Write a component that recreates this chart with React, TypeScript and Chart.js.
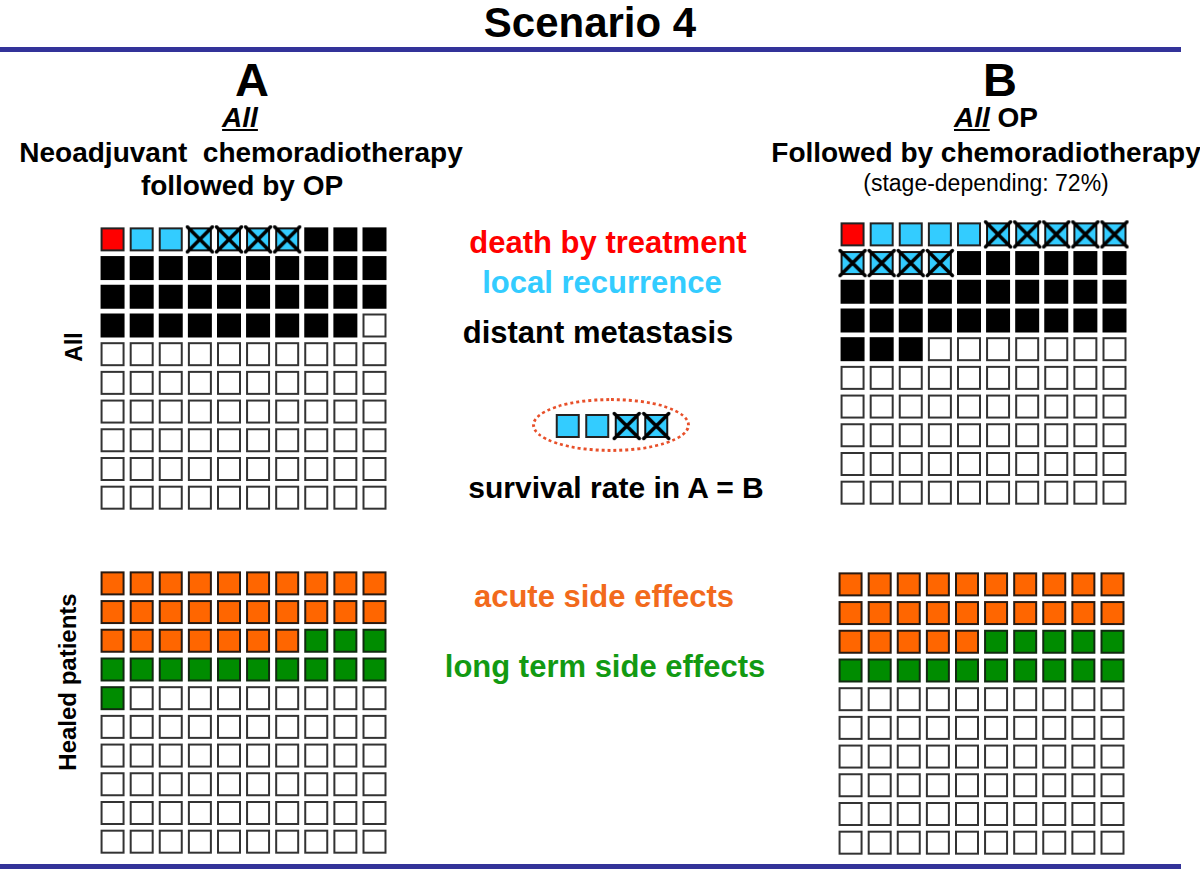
import React, { useEffect, useRef } from "react";
import { Chart, registerables } from "chart.js";

Chart.register(...registerables);

// ---- data ----
const outcomeCategories = ["death by treatment", "local recurrence", "local recurrence (salvaged)", "distant metastasis", "no event"];
const gridATopCounts = [1, 2, 4, 32, 61];
const gridBTopCounts = [1, 4, 9, 29, 57];
const legendCounts = [0, 2, 2, 0, 0];

const sideEffectCategories = ["acute side effects", "long term side effects", "no side effects"];
const gridABottomCounts = [27, 14, 59];
const gridBBottomCounts = [25, 15, 60];

// ---- styles ----
const FONT = '"Liberation Sans", Arial, Helvetica, sans-serif';
const outcomeStyles = [
  { fill: "#ff0000", stroke: "#222222", cross: false },
  { fill: "#33ccff", stroke: "#222222", cross: false },
  { fill: "#33ccff", stroke: "#111111", cross: true },
  { fill: "#000000", stroke: "#000000", cross: false },
  { fill: "#ffffff", stroke: "#333333", cross: false },
];
const sideStyles = [
  { fill: "#ff6600", stroke: "#2a1a10", cross: false },
  { fill: "#008c00", stroke: "#102a10", cross: false },
  { fill: "#ffffff", stroke: "#333333", cross: false },
];

function makeCell(fill: string, stroke: string, cross: boolean, w: number, h: number) {
  const pad = 3;
  const c = document.createElement("canvas");
  c.width = w + pad * 2;
  c.height = h + pad * 2;
  const ctx = c.getContext("2d")!;
  ctx.fillStyle = fill;
  ctx.fillRect(pad, pad, w, h);
  ctx.strokeStyle = stroke;
  ctx.lineWidth = 2;
  ctx.strokeRect(pad + 1, pad + 1, w - 2, h - 2);
  if (cross) {
    ctx.strokeStyle = "#000000";
    ctx.lineWidth = 3.5;
    ctx.lineCap = "round";
    ctx.beginPath();
    ctx.moveTo(pad - 0.5, pad - 0.5);
    ctx.lineTo(pad + w + 0.5, pad + h + 0.5);
    ctx.moveTo(pad + w + 0.5, pad - 0.5);
    ctx.lineTo(pad - 0.5, pad + h + 0.5);
    ctx.stroke();
  }
  return c;
}

function buildDatasets(counts: number[], labels: string[], styles: any[], cols: number, cellW: number, cellH: number) {
  const datasets: any[] = [];
  let idx = 0;
  counts.forEach((n, k) => {
    const pts: { x: number; y: number }[] = [];
    for (let i = 0; i < n; i++) {
      pts.push({ x: idx % cols, y: Math.floor(idx / cols) });
      idx++;
    }
    const s = styles[k];
    datasets.push({
      label: labels[k],
      data: pts,
      pointStyle: makeCell(s.fill, s.stroke, s.cross, cellW, cellH),
      pointRadius: 12,
      pointHoverRadius: 12,
    });
  });
  return datasets;
}

function Waffle(props: {
  counts: number[];
  labels: string[];
  styles: any[];
  cols: number;
  rows: number;
  left: number;
  top: number;
  width: number;
  height: number;
  cellW?: number;
  cellH?: number;
}) {
  const ref = useRef<HTMLCanvasElement>(null);
  useEffect(() => {
    const chart = new Chart(ref.current!, {
      type: "scatter",
      data: {
        datasets: buildDatasets(props.counts, props.labels, props.styles, props.cols, props.cellW ?? 24, props.cellH ?? 24),
      },
      options: {
        animation: false,
        responsive: false,
        maintainAspectRatio: false,
        events: [],
        layout: { padding: 0, autoPadding: false },
        plugins: { legend: { display: false }, tooltip: { enabled: false }, title: { display: false } },
        scales: {
          x: { type: "linear", min: -0.5, max: props.cols - 0.5, display: false },
          y: { type: "linear", min: -0.5, max: props.rows - 0.5, reverse: true, display: false },
        },
      },
    });
    return () => chart.destroy();
  }, []);
  return (
    <canvas
      ref={ref}
      width={props.width}
      height={props.height}
      style={{ position: "absolute", left: props.left, top: props.top, width: props.width, height: props.height }}
    />
  );
}

function Label(props: {
  cx: number;
  base: number;
  size: number;
  color?: string;
  weight?: number;
  children: React.ReactNode;
}) {
  const top = props.base - 0.8465 * props.size;
  return (
    <div
      style={{
        position: "absolute",
        left: props.cx,
        top,
        transform: "translateX(-50%)",
        whiteSpace: "pre",
        fontFamily: FONT,
        fontSize: props.size,
        lineHeight: `${props.size}px`,
        fontWeight: props.weight ?? 700,
        color: props.color ?? "#000",
      }}
    >
      {props.children}
    </div>
  );
}

function VLabel(props: { cx: number; cy: number; size: number; children: React.ReactNode }) {
  return (
    <div
      style={{
        position: "absolute",
        left: props.cx,
        top: props.cy,
        transform: "translate(-50%, -50%) rotate(-90deg)",
        whiteSpace: "pre",
        fontFamily: FONT,
        fontSize: props.size,
        lineHeight: `${props.size}px`,
        fontWeight: 700,
        color: "#000",
      }}
    >
      {props.children}
    </div>
  );
}

const uStyle: React.CSSProperties = { fontStyle: "italic", textDecoration: "underline" };

export default function App() {
  return (
    <div style={{ position: "absolute", left: 0, top: 0, width: 1200, height: 869, background: "#fff", overflow: "hidden" }}>
      <Label cx={590} base={38} size={42}>Scenario 4</Label>
      <div style={{ position: "absolute", left: 0, top: 47, width: 1181, height: 5, background: "#333399" }} />
      <div style={{ position: "absolute", left: 0, top: 864, width: 1181, height: 5, background: "#333399" }} />

      <Label cx={252} base={96} size={47}>A</Label>
      <Label cx={240} base={128} size={28}><span style={uStyle}>All</span></Label>
      <Label cx={241} base={163} size={28}>{"Neoadjuvant  chemoradiotherapy"}</Label>
      <Label cx={242} base={196} size={28}>followed by OP</Label>

      <Label cx={1000} base={96} size={47}>B</Label>
      <Label cx={996} base={128} size={28}><span style={uStyle}>All</span> OP</Label>
      <Label cx={986} base={163} size={28}>Followed by chemoradiotherapy</Label>
      <Label cx={986} base={191} size={23} weight={400}>(stage-depending: 72%)</Label>

      <Label cx={608} base={253} size={31} color="#ff0000">death by treatment</Label>
      <Label cx={602} base={293} size={31} color="#33ccff">local recurrence</Label>
      <Label cx={598} base={343} size={31}>distant metastasis</Label>
      <Label cx={616} base={498} size={30}>survival rate in A = B</Label>
      <Label cx={604} base={607} size={31} color="#f26a1c">acute side effects</Label>
      <Label cx={605} base={677} size={31} color="#129a12">long term side effects</Label>

      <VLabel cx={74} cy={347} size={23}>All</VLabel>
      <VLabel cx={68} cy={682} size={24}>Healed patients</VLabel>

      <div
        style={{
          position: "absolute",
          left: 532,
          top: 398,
          width: 152,
          height: 48,
          border: "3px dotted #e8502a",
          borderRadius: "50%",
        }}
      />

      <Waffle counts={gridATopCounts} labels={outcomeCategories} styles={outcomeStyles} cols={10} rows={10} left={98} top={225} width={291} height={287} />
      <Waffle counts={gridBTopCounts} labels={outcomeCategories} styles={outcomeStyles} cols={10} rows={10} left={838} top={220} width={291} height={287} />
      <Waffle counts={gridABottomCounts} labels={sideEffectCategories} styles={sideStyles} cols={10} rows={10} left={98} top={569} width={291} height={287} />
      <Waffle counts={gridBBottomCounts} labels={sideEffectCategories} styles={sideStyles} cols={10} rows={10} left={836} top={570} width={291} height={287} />
      <Waffle counts={legendCounts} labels={outcomeCategories} styles={outcomeStyles} cols={4} rows={1} left={553} top={411} width={118} height={30} />
    </div>
  );
}
